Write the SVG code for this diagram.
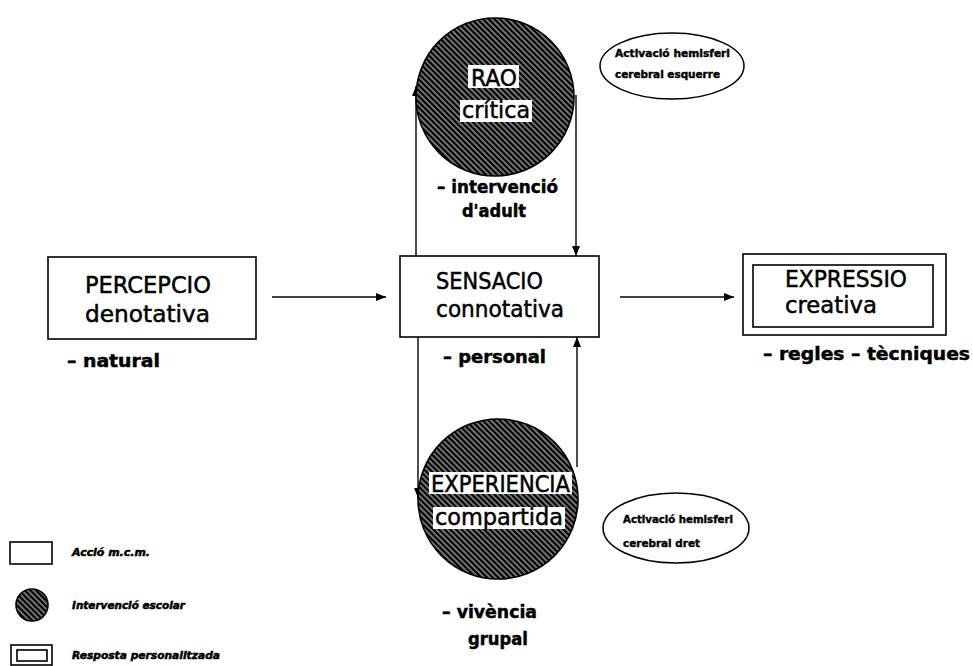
<svg xmlns="http://www.w3.org/2000/svg" width="973" height="666" viewBox="0 0 973 666">
<style>
.bg{fill:#fff}
.box{fill:#fff;stroke:#000;stroke-width:1.6}
.hatched{fill:url(#hatch);stroke:#000;stroke-width:1.6}
.oval{fill:#fff;stroke:#000;stroke-width:1.5}
.lab{fill:#fff}
.t{font-family:"DejaVu Sans",sans-serif;fill:#000;stroke:#000;stroke-width:0.5}
.big{font-size:23px}
.sub{font-size:18px;font-weight:bold}
.small{font-size:10px;font-weight:bold;stroke-width:0.4}
.leg{font-size:10px;font-weight:bold;font-style:italic;stroke-width:0.5}
.conn{fill:none;stroke:#000;stroke-width:1.4}
</style>
<defs>
<pattern id="hatch" patternUnits="userSpaceOnUse" width="4" height="4" patternTransform="rotate(-45)">
<rect width="4" height="4" fill="#000"/>
<line x1="2" y1="0" x2="2" y2="4" stroke="#fff" stroke-width="0.9"/>
</pattern>
<marker id="arr" markerUnits="userSpaceOnUse" markerWidth="10" markerHeight="8" refX="10" refY="4" orient="auto">
<path d="M0,0 L10,4 L0,8 z" fill="#000"/>
</marker>
</defs>
<rect class="bg" width="973" height="666"/>

<g id="connectors">
<line class="conn" x1="272" y1="297" x2="386" y2="297" marker-end="url(#arr)"/>
<line class="conn" x1="620" y1="297" x2="734" y2="297" marker-end="url(#arr)"/>
<line class="conn" x1="416" y1="256" x2="416" y2="86" marker-end="url(#arr)"/>
<line class="conn" x1="576" y1="95" x2="576" y2="256" marker-end="url(#arr)"/>
<line class="conn" x1="418" y1="337" x2="418" y2="498" marker-end="url(#arr)"/>
<line class="conn" x1="577" y1="467" x2="577" y2="337" marker-end="url(#arr)"/>
</g>

<g id="percepcio">
<rect class="box" x="48" y="257" width="208" height="82"/>
<text class="t big" x="85" y="293" textLength="126" lengthAdjust="spacingAndGlyphs">PERCEPCIO</text>
<text class="t big" x="85" y="322" textLength="125" lengthAdjust="spacingAndGlyphs">denotativa</text>
<text class="t sub" x="67" y="367" textLength="93" lengthAdjust="spacingAndGlyphs">–  natural</text>
</g>

<g id="sensacio">
<rect class="box" x="400" y="256" width="199" height="81"/>
<text class="t big" x="436" y="289" textLength="107" lengthAdjust="spacingAndGlyphs">SENSACIO</text>
<text class="t big" x="436" y="317" textLength="128" lengthAdjust="spacingAndGlyphs">connotativa</text>
<text class="t sub" x="443" y="363" textLength="103" lengthAdjust="spacingAndGlyphs">–  personal</text>
</g>

<g id="rao">
<circle class="hatched" cx="495" cy="97" r="79"/>
<rect class="lab" x="468" y="65" width="51" height="23"/>
<rect class="lab" x="460" y="100" width="72" height="22"/>
<text class="t big" x="471" y="86" textLength="46" lengthAdjust="spacingAndGlyphs">RAO</text>
<text class="t big" x="462" y="118" textLength="68" lengthAdjust="spacingAndGlyphs">crítica</text>
<text class="t sub" x="437" y="193" textLength="121" lengthAdjust="spacingAndGlyphs">–  intervenció</text>
<text class="t sub" x="462" y="217" textLength="64" lengthAdjust="spacingAndGlyphs">d'adult</text>
</g>

<g id="hemisferi-esquerre">
<ellipse class="oval" cx="672" cy="66" rx="72" ry="33"/>
<text class="t small" x="615" y="57" textLength="115" lengthAdjust="spacingAndGlyphs">Activació hemisferi</text>
<text class="t small" x="615" y="78" textLength="105" lengthAdjust="spacingAndGlyphs">cerebral esquerre</text>
</g>

<g id="experiencia">
<circle class="hatched" cx="498" cy="499" r="80"/>
<rect class="lab" x="429" y="472" width="143" height="22"/>
<rect class="lab" x="433" y="507" width="132" height="22"/>
<text class="t big" x="431" y="492" textLength="139" lengthAdjust="spacingAndGlyphs">EXPERIENCIA</text>
<text class="t big" x="435" y="525" textLength="128" lengthAdjust="spacingAndGlyphs">compartida</text>
<text class="t sub" x="442" y="618" textLength="95" lengthAdjust="spacingAndGlyphs">–  vivència</text>
<text class="t sub" x="468" y="645" textLength="60" lengthAdjust="spacingAndGlyphs">grupal</text>
</g>

<g id="hemisferi-dret">
<ellipse class="oval" cx="676" cy="528" rx="73" ry="35"/>
<text class="t small" x="623" y="523" textLength="110" lengthAdjust="spacingAndGlyphs">Activació hemisferi</text>
<text class="t small" x="623" y="547" textLength="77" lengthAdjust="spacingAndGlyphs">cerebral dret</text>
</g>

<g id="expressio">
<rect class="box" x="743" y="254" width="203" height="81"/>
<rect class="box" x="753" y="265" width="180" height="62"/>
<text class="t big" x="785" y="287" textLength="122" lengthAdjust="spacingAndGlyphs">EXPRESSIO</text>
<text class="t big" x="785" y="313" textLength="92" lengthAdjust="spacingAndGlyphs">creativa</text>
<text class="t sub" x="763" y="360" textLength="207" lengthAdjust="spacingAndGlyphs">–  regles  –  tècniques</text>
</g>

<g id="legend">
<rect class="box" x="10" y="542" width="42" height="22"/>
<text class="t leg" x="72" y="556" textLength="78" lengthAdjust="spacingAndGlyphs">Acció m.c.m.</text>
<circle class="hatched" cx="32" cy="605" r="16"/>
<text class="t leg" x="72" y="609" textLength="113" lengthAdjust="spacingAndGlyphs">Intervenció escolar</text>
<rect class="box" x="11" y="645" width="41" height="20"/>
<rect class="box" x="17" y="650" width="30" height="11"/>
<text class="t leg" x="72" y="659" textLength="148" lengthAdjust="spacingAndGlyphs">Resposta personalitzada</text>
</g>
</svg>
